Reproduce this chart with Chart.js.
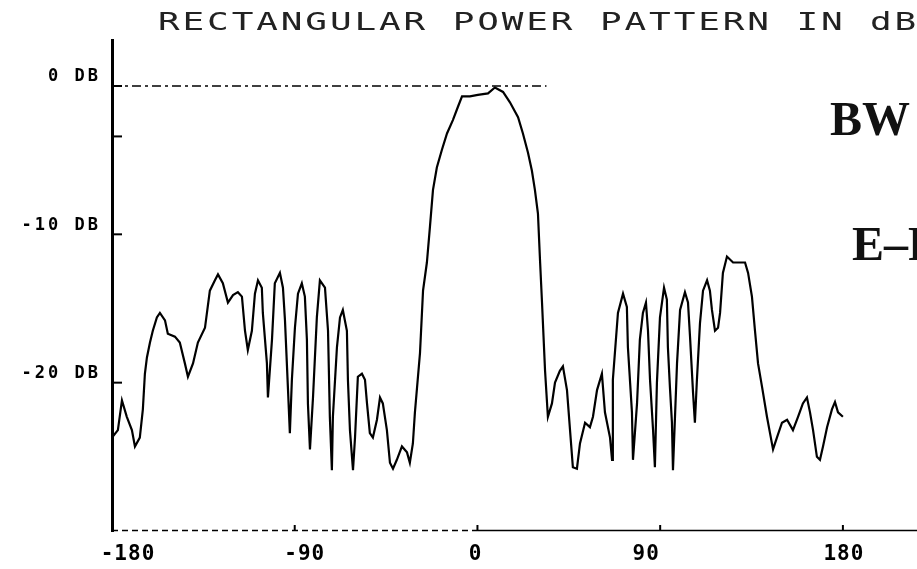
<!DOCTYPE html>
<html><head><meta charset="utf-8">
<script src="https://cdn.jsdelivr.net/npm/chart.js@4.4.1/dist/chart.umd.min.js"></script>
<style>html,body{margin:0;padding:0;background:#fff;overflow:hidden}#wrap{width:917px;height:569px;position:relative}</style>
</head><body><div id="wrap"><canvas id="c"></canvas></div>
<script>
const titleText = 'RECTANGULAR POWER PATTERN IN dB';
const annotationLines = ['BW', 'E\u2013PLANE'];

const angles = [
-180, -177.1, -175.1, -172.7, -170.2, -168.7, -166.3, -164.8, -163.8, -162.8,
-161.3, -159.9, -157.9, -156.4, -153.9, -152.5, -149.0, -146.6, -144.1, -142.6,
-140.1, -137.7, -134.2, -131.8, -129.3, -127.8, -125.4, -122.9, -120.4, -118.0,
-116.0, -114.5, -113.1, -111.1, -109.6, -108.1, -106.2, -105.7, -103.7, -103.2,
-101.2, -99.8, -97.3, -95.8, -94.8, -93.3, -92.4, -91.4, -89.9, -88.4,
-86.5, -85.0, -84.0, -83.5, -82.5, -81.0, -79.1, -77.6, -75.1, -73.6,
-72.7, -71.7, -71.2, -69.2, -67.7, -66.3, -64.3, -63.8, -62.8, -61.3,
-60.3, -58.9, -56.9, -55.4, -54.4, -53.0, -51.5, -49.5, -48.0, -46.6,
-44.6, -43.1, -41.6, -39.7, -37.2, -34.7, -33.3, -31.8, -30.8, -28.3,
-26.8, -24.9, -23.4, -21.9, -20.0, -17.5, -15.0, -12.1, -9.6, -7.6,
-3.7, 0.2, 5.2, 8.6, 12.6, 16.0, 20.0, 22.4, 24.9, 26.8,
28.3, 29.8, 30.8, 31.8, 33.3, 34.7, 36.7, 38.2, 40.6, 42.1,
44.1, 45.6, 47.0, 49.0, 50.5, 53.0, 55.4, 56.9, 58.9, 61.3,
62.8, 65.3, 66.3, 66.7, 69.2, 71.7, 73.6, 74.1, 76.1, 76.6,
78.6, 80.0, 81.5, 83.0, 84.0, 85.0, 86.5, 87.4, 88.4, 89.9,
91.9, 93.3, 93.8, 94.8, 95.8, 96.3, 98.3, 99.8, 102.2, 103.7,
104.7, 106.2, 107.1, 108.1, 109.6, 111.1, 113.1, 114.5, 115.5, 117.0,
118.5, 119.5, 120.9, 122.9, 125.9, 129.3, 131.8, 133.3, 135.2, 136.7,
138.2, 140.2, 142.6, 144.1, 145.6, 147.5, 150.0, 152.5, 155.4, 157.9,
160.3, 162.3, 163.8, 165.3, 167.2, 168.7, 170.2, 172.2, 174.6, 176.1,
177.6, 180.0
];

const powerDb = [
-23.7, -23.2, -21.2, -22.3, -23.2, -24.3, -23.7, -21.8, -19.4, -18.3,
-17.3, -16.5, -15.6, -15.3, -15.8, -16.7, -16.9, -17.3, -18.7, -19.6,
-18.7, -17.3, -16.3, -13.8, -13.1, -12.7, -13.3, -14.6, -14.1, -13.9,
-14.2, -16.5, -17.8, -16.5, -14.0, -13.1, -13.6, -15.3, -18.7, -21.0,
-17.1, -13.3, -12.6, -13.6, -15.8, -20.5, -23.4, -19.8, -16.3, -14.0,
-13.3, -14.2, -17.1, -21.4, -24.5, -21.0, -15.6, -13.1, -13.6, -16.5,
-22.3, -25.9, -22.3, -17.6, -15.6, -15.1, -16.5, -19.8, -23.2, -25.9,
-23.7, -19.6, -19.4, -19.8, -21.4, -23.4, -23.7, -22.5, -21.0, -21.4,
-23.2, -25.4, -25.8, -25.2, -24.3, -24.7, -25.4, -24.1, -22.0, -18.0,
-13.8, -11.9, -9.5, -7.0, -5.5, -4.3, -3.2, -2.3, -1.4, -0.7,
-0.7, -0.6, -0.5, -0.1, -0.4, -1.1, -2.1, -3.2, -4.5, -5.7,
-7.0, -8.6, -11.7, -14.6, -19.2, -22.3, -21.4, -20.0, -19.2, -18.9,
-20.5, -23.2, -25.7, -25.8, -24.1, -22.7, -23.0, -22.3, -20.5, -19.4,
-22.0, -23.7, -25.2, -19.8, -15.3, -14.0, -14.9, -17.6, -22.0, -25.2,
-21.4, -17.1, -15.3, -14.6, -16.5, -19.8, -23.2, -25.7, -20.0, -15.6,
-13.6, -14.4, -17.6, -20.3, -22.7, -25.9, -18.7, -15.1, -13.9, -14.6,
-16.9, -20.7, -22.7, -19.8, -16.0, -13.8, -13.1, -13.8, -15.1, -16.5,
-16.3, -15.3, -12.6, -11.5, -11.9, -11.9, -11.9, -12.6, -14.2, -16.5,
-18.7, -20.3, -22.3, -23.4, -24.5, -23.7, -22.7, -22.5, -23.2, -22.3,
-21.4, -21.0, -22.0, -23.2, -25.0, -25.2, -24.3, -23.0, -21.8, -21.3,
-22.0, -22.3
];

const xTickValues = [-180, -90, 0, 90, 180];
const xTickLabels = ['-180', '-90', '0', '90', '180'];
const yTickValues = [0, -3.4, -10, -20];
const yTickLabels = ['0 DB', '', '-10 DB', '-20 DB'];
const referenceLevel = 0;
const referenceLineEnd = 34;

const points = angles.map((a, i) => ({x: a, y: powerDb[i]}));

const decor = {
  id: 'decor',
  afterDraw(chart) {
    const {ctx, chartArea: a, scales: {x, y}} = chart;
    ctx.save();
    ctx.strokeStyle = '#000';
    ctx.fillStyle = '#000';

    // 0 dB reference dashed line
    ctx.lineWidth = 1.5;
    ctx.setLineDash([9, 4, 3, 4]);
    const ry = y.getPixelForValue(referenceLevel);
    ctx.beginPath();
    ctx.moveTo(a.left, ry);
    ctx.lineTo(x.getPixelForValue(referenceLineEnd), ry);
    ctx.stroke();

    // bottom axis: dashed left part, solid right part
    const by = a.bottom - 0.5;
    const x0 = x.getPixelForValue(0);
    ctx.lineWidth = 1.5;
    ctx.setLineDash([6, 4]);
    ctx.beginPath(); ctx.moveTo(a.left, by); ctx.lineTo(x0, by); ctx.stroke();
    ctx.setLineDash([]);
    ctx.beginPath(); ctx.moveTo(x0, by); ctx.lineTo(a.right, by); ctx.stroke();

    // y tick marks (inward)
    ctx.lineWidth = 2;
    y.ticks.forEach(t => {
      const py = y.getPixelForValue(t.value);
      ctx.beginPath(); ctx.moveTo(a.left, py); ctx.lineTo(a.left + 10, py); ctx.stroke();
    });
    // x tick marks (upward)
    x.ticks.forEach(t => {
      if (t.value === -180) return;
      const px = x.getPixelForValue(t.value);
      ctx.beginPath(); ctx.moveTo(px, a.bottom); ctx.lineTo(px, a.bottom - 6); ctx.stroke();
    });

    // y labels
    ctx.font = 'bold 17px "DejaVu Sans Mono"';
    ctx.letterSpacing = '3px';
    ctx.textAlign = 'right';
    ctx.textBaseline = 'middle';
    y.ticks.forEach((t, i) => {
      const lbl = yTickLabels[i];
      if (!lbl) return;
      ctx.fillText(lbl, 101, y.getPixelForValue(t.value) - 9);
    });

    // x labels
    const nudge = [16, 10, -2, -14, 1];
    ctx.font = 'bold 21px "DejaVu Sans Mono"';
    ctx.letterSpacing = '1px';
    ctx.textAlign = 'center';
    x.ticks.forEach((t, i) => {
      ctx.fillText(xTickLabels[i], x.getPixelForValue(t.value) + nudge[i], a.bottom + 24);
    });

    // title
    ctx.letterSpacing = '2px';
    ctx.font = '25px "DejaVu Sans Mono"';
    ctx.fillStyle = '#222';
    ctx.textAlign = 'left';
    ctx.textBaseline = 'alphabetic';
    ctx.save();
    ctx.translate(158, 30);
    ctx.scale(1.44, 1);
    ctx.fillText(titleText, 0, 0);
    ctx.restore();

    // annotations
    ctx.letterSpacing = '0px';
    ctx.fillStyle = '#111';
    ctx.font = 'bold 48px "Liberation Serif"';
    ctx.fillText(annotationLines[0], 830, 135);
    ctx.fillText(annotationLines[1], 852, 260);
    ctx.restore();
  }
};

new Chart(document.getElementById('c'), {
  type: 'line',
  data: {
    datasets: [{
      label: 'Power pattern',
      data: points,
      borderColor: '#000',
      borderWidth: 2.2,
      pointRadius: 0,
      tension: 0,
      fill: false
    }]
  },
  options: {
    responsive: true,
    maintainAspectRatio: false,
    animation: false,
    layout: {padding: {top: 40, right: 0, bottom: 0, left: 0}},
    plugins: {legend: {display: false}, tooltip: {enabled: false}, title: {display: false}},
    scales: {
      x: {
        type: 'linear',
        min: -180,
        max: 216.5,
        afterBuildTicks: s => { s.ticks = xTickValues.map(v => ({value: v})); },
        afterFit: s => { s.height = 38; },
        ticks: {display: false},
        grid: {display: false},
        border: {display: false}
      },
      y: {
        type: 'linear',
        min: -30,
        max: 3.1,
        afterBuildTicks: s => { s.ticks = yTickValues.map(v => ({value: v})); },
        afterFit: s => { s.width = 112; },
        ticks: {display: false},
        grid: {display: true, drawOnChartArea: false, drawTicks: false},
        border: {display: true, color: '#000', width: 3}
      }
    }
  },
  plugins: [decor]
});
</script>
</body></html>
